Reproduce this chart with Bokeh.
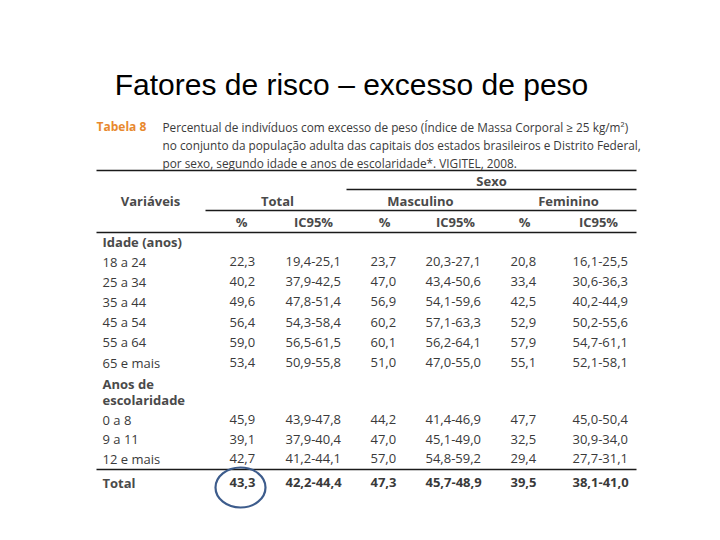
from bokeh.plotting import figure
from bokeh.models import Range1d
from bokeh.core.properties import value
from bokeh.embed import file_html
from bokeh.resources import INLINE

# ---------------- data ----------------
title = "Fatores de risco – excesso de peso"
table_label = "Tabela 8"
caption = [
    "Percentual de indivíduos com excesso de peso (Índice de Massa Corporal ≥ 25 kg/m²)",
    "no conjunto da população adulta das capitais dos estados brasileiros e Distrito Federal,",
    "por sexo, segundo idade e anos de escolaridade*. VIGITEL, 2008.",
]
group_headers = ["Total", "Masculino", "Feminino"]
sub_headers = ["%", "IC95%", "%", "IC95%", "%", "IC95%"]

age_labels = ["18 a 24", "25 a 34", "35 a 44", "45 a 54", "55 a 64", "65 e mais"]
age_total = [22.3, 40.2, 49.6, 56.4, 59.0, 53.4]
age_total_lo = [19.4, 37.9, 47.8, 54.3, 56.5, 50.9]
age_total_hi = [25.1, 42.5, 51.4, 58.4, 61.5, 55.8]
age_masc = [23.7, 47.0, 56.9, 60.2, 60.1, 51.0]
age_masc_lo = [20.3, 43.4, 54.1, 57.1, 56.2, 47.0]
age_masc_hi = [27.1, 50.6, 59.6, 63.3, 64.1, 55.0]
age_fem = [20.8, 33.4, 42.5, 52.9, 57.9, 55.1]
age_fem_lo = [16.1, 30.6, 40.2, 50.2, 54.7, 52.1]
age_fem_hi = [25.5, 36.3, 44.9, 55.6, 61.1, 58.1]

edu_labels = ["0 a 8", "9 a 11", "12 e mais"]
edu_total = [45.9, 39.1, 42.7]
edu_total_lo = [43.9, 37.9, 41.2]
edu_total_hi = [47.8, 40.4, 44.1]
edu_masc = [44.2, 47.0, 57.0]
edu_masc_lo = [41.4, 45.1, 54.8]
edu_masc_hi = [46.9, 49.0, 59.2]
edu_fem = [47.7, 32.5, 29.4]
edu_fem_lo = [45.0, 30.9, 27.7]
edu_fem_hi = [50.4, 34.0, 31.1]

overall_total = [43.3, 42.2, 44.4]
overall_masc = [47.3, 45.7, 48.9]
overall_fem = [39.5, 38.1, 41.0]

# ---------------- helpers ----------------
def f(v):
    return f"{v:.1f}".replace(".", ",")

def ci(lo, hi):
    return f"{f(lo)}-{f(hi)}"

W, H = 704, 524
p = figure(width=W, height=H, output_backend="svg", toolbar_location=None,
           x_range=Range1d(0, W), y_range=Range1d(H, 0),
           min_border=0, outline_line_color=None)
p.axis.visible = False
p.grid.visible = False
p.background_fill_color = "white"
p.border_fill_color = "white"

TXT = "#3a3a3a"
HDR = "#4a4a4a"
FONT = value("Open Sans")

def txt(xs, ys, texts, size="13px", bold=False, align="left", color=TXT, font=FONT, baseline="middle"):
    p.text(x=xs, y=ys, text=texts, text_font=font, text_font_size=size,
           text_font_style="bold" if bold else "normal", text_align=align,
           text_baseline=baseline, text_color=color)

# title
txt([351], [84], [title], size="30px", align="center", color="#000000",
    font=value("Liberation Sans"), baseline="alphabetic")

# caption
txt([96], [126], [table_label], size="12px", bold=True, color="#E8892E")
txt([162] * 3, [126 + 18 * i for i in range(3)], caption, size="11.8px")

# layout
col_x = [229, 285, 370, 425, 510, 572]
sub_x = [241, 313, 384, 455, 524, 598]
grp_x = [277, 420, 568]
label_x = 102
L, R = 96, 636

# rules
p.segment(x0=[L, 346, 205, L, L], x1=[R, R, R, R, R],
          y0=[170, 189, 210, 232, 469], y1=[170, 189, 210, 232, 469],
          line_color="#1a1a1a", line_width=1.3)

# headers
txt([491], [180], ["Sexo"], bold=True, align="center", color=HDR)
txt([150], [200], ["Variáveis"], bold=True, align="center", color=HDR)
txt(grp_x, [200] * 3, group_headers, bold=True, align="center", color=HDR)
txt(sub_x, [221] * 6, sub_headers, bold=True, align="center", color=HDR)

# group labels
txt([label_x], [241], ["Idade (anos)"], bold=True, color=HDR)
txt([label_x, label_x], [383, 399], ["Anos de", "escolaridade"], bold=True, color=HDR)

def rows(labels, cols, y0, step):
    ys = [y0 + step * i for i in range(len(labels))]
    txt([label_x] * len(labels), ys, labels)
    for j, c in enumerate(cols):
        txt([col_x[j]] * len(labels), ys, c)

rows(age_labels,
     [[f(v) for v in age_total], [ci(a, b) for a, b in zip(age_total_lo, age_total_hi)],
      [f(v) for v in age_masc], [ci(a, b) for a, b in zip(age_masc_lo, age_masc_hi)],
      [f(v) for v in age_fem], [ci(a, b) for a, b in zip(age_fem_lo, age_fem_hi)]],
     261, 20.2)
rows(edu_labels,
     [[f(v) for v in edu_total], [ci(a, b) for a, b in zip(edu_total_lo, edu_total_hi)],
      [f(v) for v in edu_masc], [ci(a, b) for a, b in zip(edu_masc_lo, edu_masc_hi)],
      [f(v) for v in edu_fem], [ci(a, b) for a, b in zip(edu_fem_lo, edu_fem_hi)]],
     419, 19.5)

# total row
tot = [f(overall_total[0]), ci(*overall_total[1:]), f(overall_masc[0]), ci(*overall_masc[1:]),
       f(overall_fem[0]), ci(*overall_fem[1:])]
txt([label_x], [482], ["Total"], bold=True, color=HDR)
txt(col_x, [482] * 6, tot, bold=True)

# highlight ellipse
p.ellipse(x=[240], y=[487], width=50, height=40, fill_color=None,
          line_color="#3d5c8c", line_width=2.2)

open("out.html", "w").write(file_html(p, INLINE))
